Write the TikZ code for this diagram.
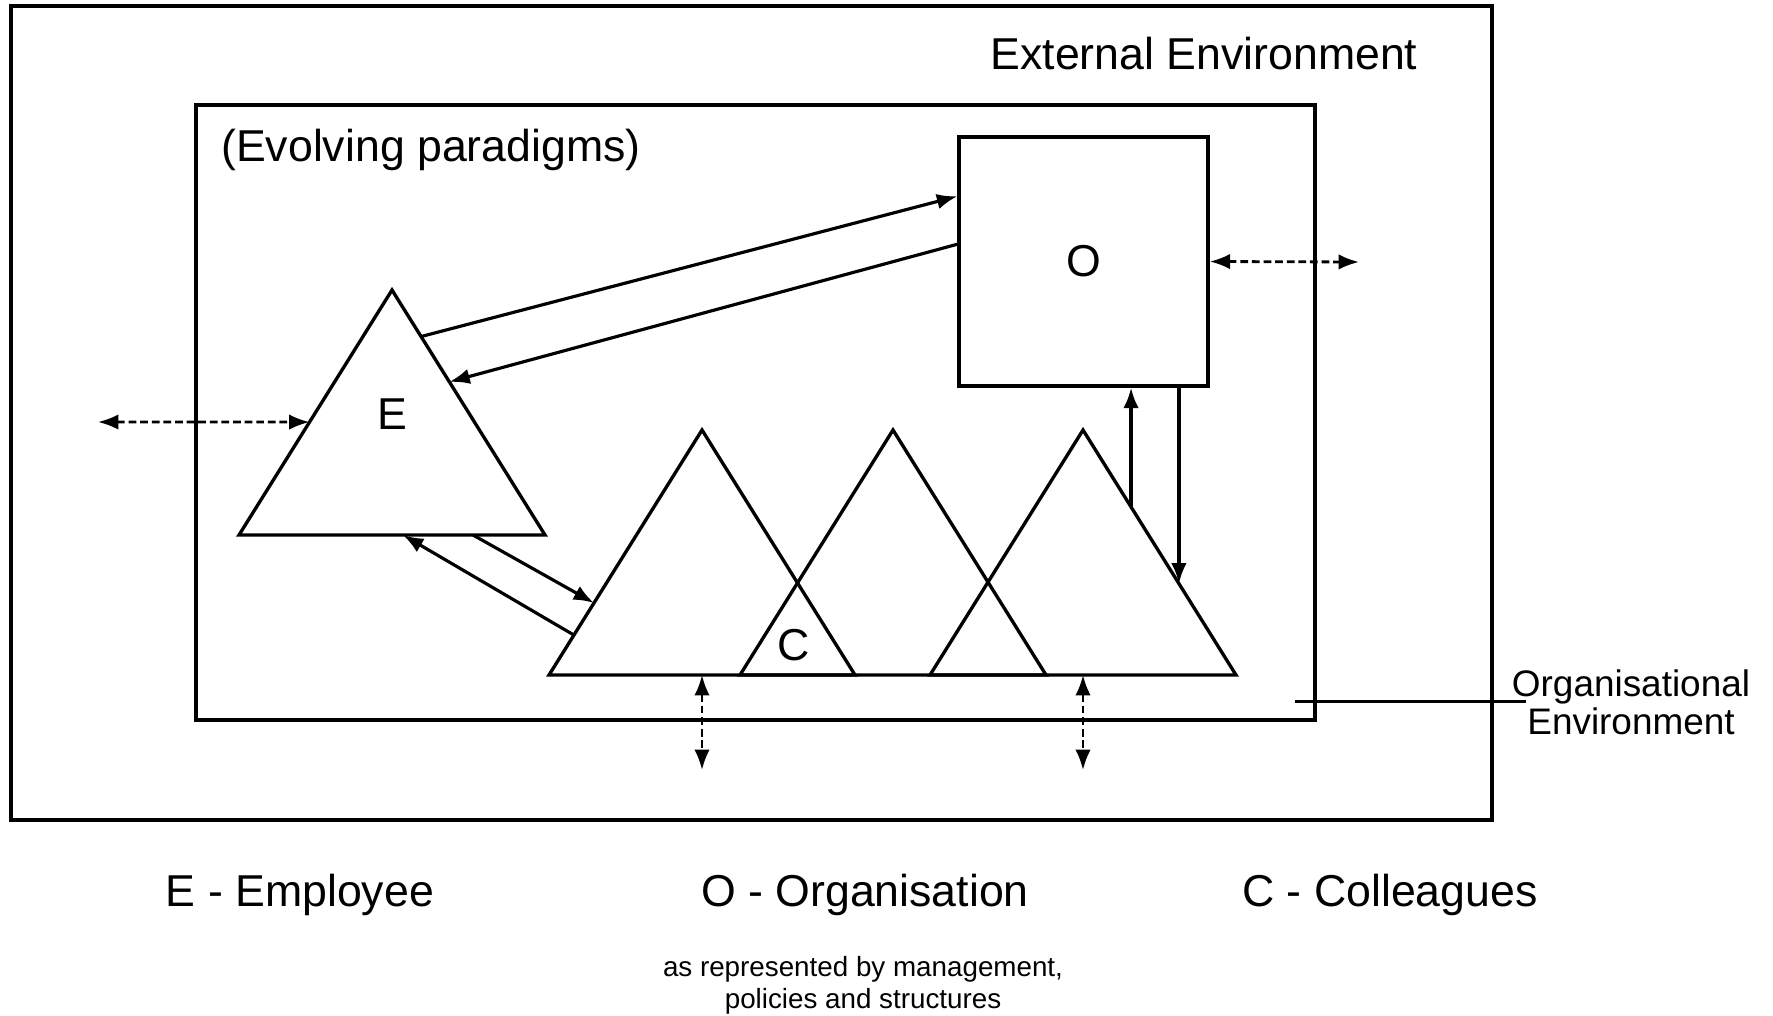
\documentclass[tikz,border=0pt]{standalone}
\usepackage{fontspec}
\setmainfont{Liberation Sans}
\usetikzlibrary{arrows.meta,calc}
\begin{document}
\begin{tikzpicture}[x=0.01cm,y=-0.01cm, line width=0.95pt, line join=miter,
  hd/.tip={Latex[length=5.8pt,width=4.4pt]},
  arr/.style={-hd, line width=0.9pt},
  darr/.style={hd-hd, line width=0.8pt, dash pattern=on 2.2pt off 1.1pt},
  tri/.style={draw, line width=0.95pt},
  big/.style={font=\fontsize{12.7}{15}\selectfont},
  mid/.style={font=\fontsize{10.5}{10.8}\selectfont, align=center},
  small/.style={font=\fontsize{7.9}{9.1}\selectfont, align=center}
]
\useasboundingbox (0,0) rectangle (1773,1015);

% environments
\draw (11,6) rectangle (1492,820);
\draw (196,105) rectangle (1315,720);
\node[big, anchor=center] (ext) at (1204,54) {External Environment};
\node[big, anchor=center] (evo) at (431,150) {(Evolving paradigms)};

% organisation box
\node[draw, line width=0.95pt, minimum width=2.49cm, minimum height=2.49cm, inner sep=0pt, big] (O) at (1083.5,261.5) {O};

% employee triangle
\coordinate (Ea) at (392,290);
\coordinate (Er) at (545,535);
\coordinate (El) at (239,535);
\draw[tri] (Ea) -- (Er) -- (El) -- cycle;
\node[big] (E) at (392,414) {E};

% colleague triangles
\coordinate (T1a) at (702,430); \coordinate (T1l) at (549,675); \coordinate (T1r) at (855,675);
\coordinate (T2a) at (893,430); \coordinate (T2l) at (740,675); \coordinate (T2r) at (1046,675);
\coordinate (T3a) at (1083,430); \coordinate (T3l) at (930,675); \coordinate (T3r) at (1236,675);
\draw[tri] (T1l) -- (T1a) -- (T1r) -- cycle;
\draw[tri] (T2l) -- (T2a) -- (T2r) -- cycle;
\draw[tri] (T3l) -- (T3a) -- (T3r) -- cycle;
\node[big] (C) at (794,645) {C};

% E <-> O
\coordinate (e1) at ($(Ea)!0.19!(Er)$);
\coordinate (e2) at ($(Ea)!0.375!(Er)$);
\coordinate (o1) at ($(O.north west)+(0,61)$);
\coordinate (o2) at ($(O.north west)+(0,109)$);
\draw[arr] (e1) -- (o1);
\draw[arr] (o2) -- (e2);

% E external
\coordinate (eL) at ($(Ea)!0.539!(El)$);
\coordinate (xL) at (98,422);
\draw[darr] (xL) -- (eL);

% O external
\coordinate (xR) at (1359,262);
\draw[darr] (O.east) -- (xR);

% E <-> C
\coordinate (eb1) at (473,535);
\coordinate (eb2) at (403,535);
\coordinate (c1) at ($(T1a)!0.706!(T1l)$);
\coordinate (c2) at ($(T1a)!0.837!(T1l)$);
\draw[arr] (eb1) -- (c1);
\draw[arr] (c2) -- (eb2);

% O <-> C
\coordinate (c3) at ($(T3a)!0.314!(T3r)$);
\coordinate (c4) at ($(T3a)!0.627!(T3r)$);
\draw[arr] (c3) -- (c3 |- O.south);
\draw[arr] (c4 |- O.south) -- (c4);

% C external
\coordinate (b1) at (702,675); \coordinate (b1x) at (702,770);
\coordinate (b2) at (1083,675); \coordinate (b2x) at (1083,770);
\draw[darr] (b1) -- (b1x);
\draw[darr] (b2) -- (b2x);

% organisational environment label
\node[mid] (org) at (1631,702) {Organisational\\Environment};
\coordinate (orgl) at (1295,701);
\draw[line width=0.85pt] (orgl) -- (1526,701);

% legend
\node[big] (lE) at (300,895) {E - Employee};
\node[big] (lO) at (865,895) {O - Organisation};
\node[big] (lC) at (1390,895) {C - Colleagues};
\node[small] (note) at (863,985) {as represented by management,\\policies and structures};
\end{tikzpicture}
\end{document}
